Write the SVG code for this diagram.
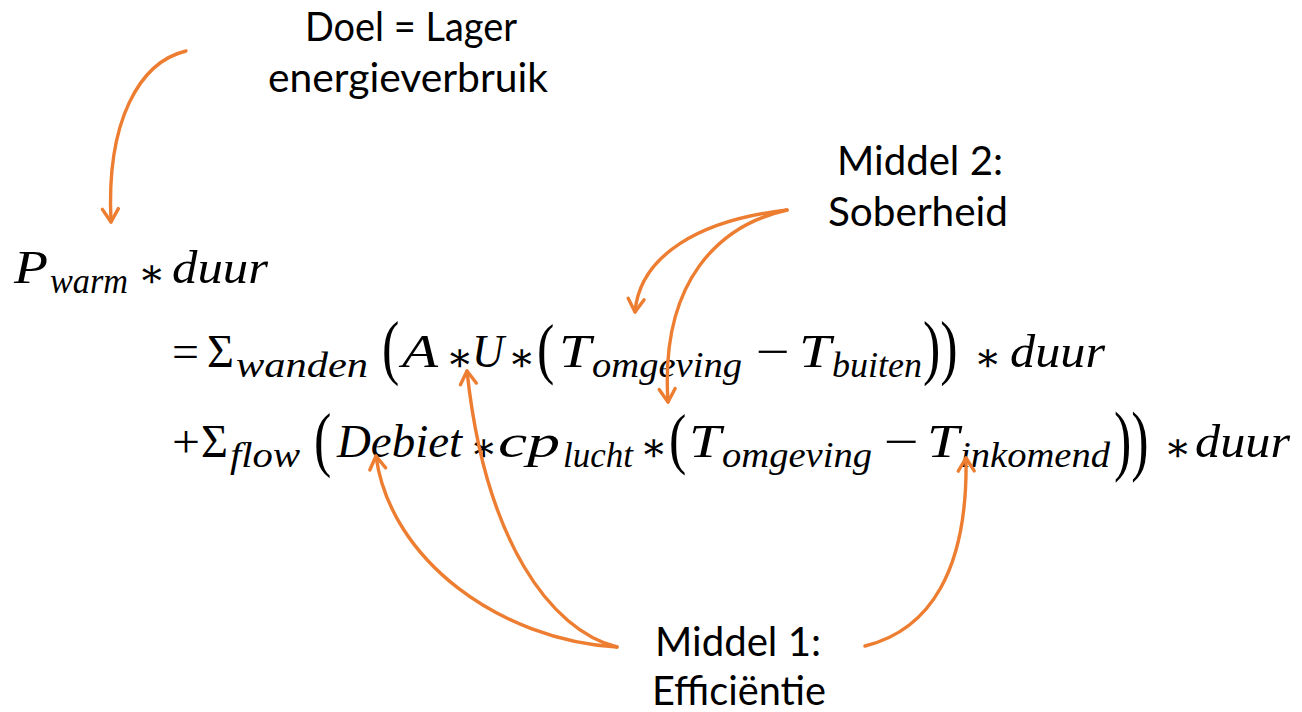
<svg xmlns="http://www.w3.org/2000/svg" width="1302" height="712" viewBox="0 0 1302 712">
<style>
.lbl{font-family:Lato,"Liberation Sans",sans-serif;font-size:40px;fill:#000}
.m{font-family:"Liberation Serif",serif;font-style:italic;font-size:47px;fill:#000}
.s{font-family:"Liberation Serif",serif;font-style:italic;font-size:35px;fill:#000}
.op{font-family:"Liberation Serif","DejaVu Serif",serif;font-size:46px;fill:#000}
.ast{font-family:"DejaVu Serif",serif;font-size:40px;fill:#000}
.par{font-family:"Liberation Serif",serif;font-size:52px;fill:#000}
.arr{fill:none;stroke:#ED7D31;stroke-width:3.4;stroke-linecap:round;marker-end:url(#ah)}
</style>
<defs>
<marker id="ah" markerWidth="20" markerHeight="20" refX="14" refY="8" orient="auto" markerUnits="userSpaceOnUse" viewBox="0 0 20 16" overflow="visible">
<path d="M1,0 L14,8 L1,16" fill="none" stroke="#ED7D31" stroke-width="3.4" stroke-linecap="round" stroke-linejoin="round"/>
</marker>
</defs>
<rect width="1302" height="712" fill="#fff"/>

<g id="doel">
<text class="lbl" x="305" y="41" textLength="212" lengthAdjust="spacingAndGlyphs">Doel = Lager</text>
<text class="lbl" x="268" y="92" textLength="280" lengthAdjust="spacingAndGlyphs">energieverbruik</text>
</g>
<g id="middel2">
<text class="lbl" x="837" y="175" textLength="166" lengthAdjust="spacingAndGlyphs">Middel 2:</text>
<text class="lbl" x="828" y="226" textLength="180" lengthAdjust="spacingAndGlyphs">Soberheid</text>
</g>
<g id="middel1">
<text class="lbl" x="655" y="656" textLength="166" lengthAdjust="spacingAndGlyphs">Middel 1:</text>
<text class="lbl" x="652" y="705" textLength="174" lengthAdjust="spacingAndGlyphs">Efficiëntie</text>
</g>

<g id="formule">
<!-- line 1 -->
<text class="m" x="14" y="283" textLength="34" lengthAdjust="spacingAndGlyphs">P</text>
<text class="s" x="50" y="293" textLength="78" lengthAdjust="spacingAndGlyphs">warm</text>
<text class="ast" x="138" y="287">∗</text>
<text class="m" x="172" y="283" textLength="96" lengthAdjust="spacingAndGlyphs">duur</text>
<!-- line 2 -->
<text class="op" x="172" y="367" textLength="27" lengthAdjust="spacingAndGlyphs">=</text>
<text class="op" x="207" y="367" textLength="27" lengthAdjust="spacingAndGlyphs">Σ</text>
<text class="s" x="236" y="377" textLength="132" lengthAdjust="spacingAndGlyphs">wanden</text>
<text class="par" transform="translate(382,371) scale(1,1.38)">(</text>
<text class="m" x="402" y="367" textLength="36" lengthAdjust="spacingAndGlyphs">A</text>
<text class="ast" x="446" y="371">∗</text>
<text class="m" x="472" y="367" textLength="32" lengthAdjust="spacingAndGlyphs">U</text>
<text class="ast" x="508" y="371">∗</text>
<text class="par" transform="translate(537,371) scale(1,1.3)">(</text>
<text class="m" x="559" y="367" textLength="32" lengthAdjust="spacingAndGlyphs">T</text>
<text class="s" x="592" y="377" textLength="150" lengthAdjust="spacingAndGlyphs">omgeving</text>
<text class="op" x="756" y="367" textLength="34" lengthAdjust="spacingAndGlyphs">−</text>
<text class="m" x="799" y="367" textLength="32" lengthAdjust="spacingAndGlyphs">T</text>
<text class="s" x="832" y="377" textLength="90" lengthAdjust="spacingAndGlyphs">buiten</text>
<text class="par" transform="translate(923,371) scale(1,1.38)">))</text>
<text class="ast" x="974" y="371">∗</text>
<text class="m" x="1010" y="367" textLength="95" lengthAdjust="spacingAndGlyphs">duur</text>
<!-- line 3 -->
<text class="op" x="172" y="457" textLength="28" lengthAdjust="spacingAndGlyphs">+</text>
<text class="op" x="201" y="457" textLength="27" lengthAdjust="spacingAndGlyphs">Σ</text>
<text class="s" x="230" y="467" textLength="70" lengthAdjust="spacingAndGlyphs">flow</text>
<text class="par" transform="translate(314,463) scale(1,1.38)">(</text>
<text class="m" x="337" y="457" textLength="125" lengthAdjust="spacingAndGlyphs">Debiet</text>
<text class="ast" x="470" y="461">∗</text>
<text class="m" x="498" y="457" textLength="62" lengthAdjust="spacingAndGlyphs">cp</text>
<text class="s" x="563" y="467" textLength="70" lengthAdjust="spacingAndGlyphs">lucht</text>
<text class="ast" x="640" y="461">∗</text>
<text class="par" transform="translate(669,461) scale(1,1.3)">(</text>
<text class="m" x="689" y="457" textLength="32" lengthAdjust="spacingAndGlyphs">T</text>
<text class="s" x="722" y="467" textLength="150" lengthAdjust="spacingAndGlyphs">omgeving</text>
<text class="op" x="884" y="457" textLength="35" lengthAdjust="spacingAndGlyphs">−</text>
<text class="m" x="927" y="457" textLength="32" lengthAdjust="spacingAndGlyphs">T</text>
<text class="s" x="960" y="467" textLength="150" lengthAdjust="spacingAndGlyphs">inkomend</text>
<text class="par" transform="translate(1114,466) scale(1,1.5)">))</text>
<text class="ast" x="1164" y="461">∗</text>
<text class="m" x="1195" y="457" textLength="95" lengthAdjust="spacingAndGlyphs">duur</text>
</g>

<g id="connectors">
<path class="arr" d="M186,51 C140,62 106,120 111,222"/>
<path class="arr" d="M787,210 C700,220 640,255 635,312"/>
<path class="arr" d="M787,210 C720,225 660,280 668,402"/>
<path class="arr" d="M617,647 C500,640 390,560 376,456"/>
<path class="arr" d="M617,647 C550,630 485,540 467,371"/>
<path class="arr" d="M865,646 C930,630 968,570 966,458"/>
</g>
</svg>
